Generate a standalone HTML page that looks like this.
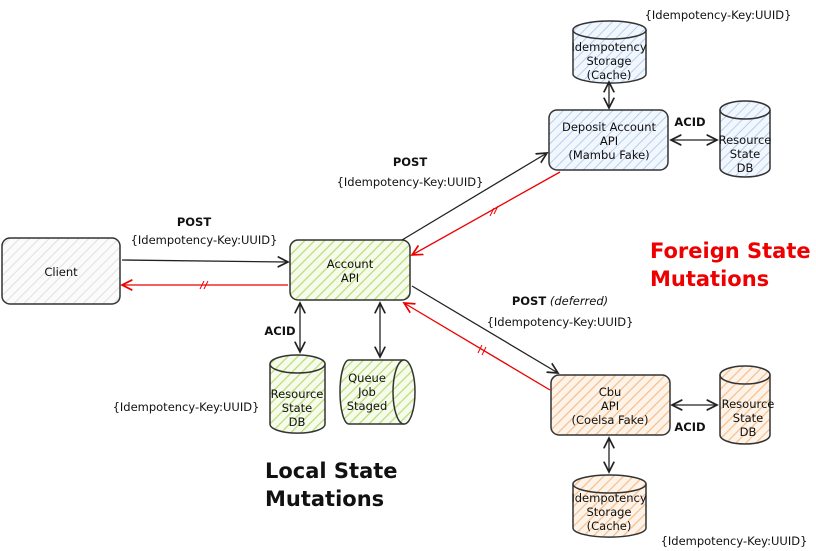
<!DOCTYPE html>
<html><head><style>body{margin:0;background:#fff}svg{display:block}</style></head><body>
<svg width="816" height="551" viewBox="0 0 816 551" xmlns="http://www.w3.org/2000/svg" font-family="'Comic Sans MS','DejaVu Sans',sans-serif">
<defs>
<pattern id="g" width="7" height="7" patternUnits="userSpaceOnUse" patternTransform="rotate(45)"><rect width="7" height="7" fill="#f6fbec"/><line x1="0" y1="0" x2="0" y2="7" stroke="#b8de78" stroke-width="2.5"/></pattern>
<pattern id="b" width="7" height="7" patternUnits="userSpaceOnUse" patternTransform="rotate(45)"><rect width="7" height="7" fill="#f2f7fd"/><line x1="0" y1="0" x2="0" y2="7" stroke="#b4cff0" stroke-width="2"/></pattern>
<pattern id="o" width="7" height="7" patternUnits="userSpaceOnUse" patternTransform="rotate(45)"><rect width="7" height="7" fill="#fdf3e8"/><line x1="0" y1="0" x2="0" y2="7" stroke="#f6c08e" stroke-width="2.5"/></pattern>
<pattern id="c" width="7" height="7" patternUnits="userSpaceOnUse" patternTransform="rotate(45)"><rect width="7" height="7" fill="#fbfbfb"/><line x1="0" y1="0" x2="0" y2="7" stroke="#e0e0e0" stroke-width="2"/></pattern>
<marker id="ak" markerWidth="10" markerHeight="10" refX="8" refY="5" orient="auto-start-reverse"><path d="M0,1 L8,5 L0,9" fill="none" stroke="#222" stroke-width="1.3"/></marker>
<marker id="ar" markerWidth="10" markerHeight="10" refX="8" refY="5" orient="auto-start-reverse"><path d="M0,1 L8,5 L0,9" fill="none" stroke="#e00" stroke-width="1.3"/></marker>
</defs>
<g stroke="#333" stroke-width="1.5">
<rect x="2" y="238" width="118" height="66" rx="8" fill="url(#c)"/>
<rect x="290" y="240" width="120" height="60" rx="8" fill="url(#g)"/>
<rect x="549" y="110" width="119" height="60" rx="8" fill="url(#b)"/>
<rect x="551" y="375" width="119" height="60" rx="8" fill="url(#o)"/>
<path d="M573,30 v44 a36,9 0 0 0 73,0 v-44" fill="url(#b)"/><ellipse cx="609.5" cy="30" rx="36.5" ry="9" fill="url(#b)"/>
<path d="M720,110 v58 a25,9 0 0 0 50,0 v-58" fill="url(#b)"/><ellipse cx="745" cy="110" rx="25" ry="9" fill="url(#b)"/>
<path d="M720,375 v60 a25,9 0 0 0 50,0 v-60" fill="url(#o)"/><ellipse cx="745" cy="375" rx="25" ry="9" fill="url(#o)"/>
<path d="M573,484 v44 a36,9 0 0 0 73,0 v-44" fill="url(#o)"/><ellipse cx="609.5" cy="484" rx="36.5" ry="9" fill="url(#o)"/>
<path d="M270,364 v60 a27,9 0 0 0 55,0 v-60" fill="url(#g)"/><ellipse cx="297.5" cy="364" rx="27.5" ry="9" fill="url(#g)"/>
<path d="M404,360 h-55 a9,32 0 0 0 0,64 h55" fill="url(#g)"/><ellipse cx="404" cy="392" rx="11" ry="32" fill="url(#g)"/>
</g>
<g fill="none" stroke-width="1.3">
<line x1="122" y1="260" x2="288" y2="262" stroke="#222" marker-end="url(#ak)"/>
<line x1="288" y1="285" x2="122" y2="285" stroke="#e00" marker-end="url(#ar)"/>
<line x1="402" y1="240" x2="547" y2="153" stroke="#222" marker-end="url(#ak)"/>
<line x1="560" y1="172" x2="412" y2="255" stroke="#e00" marker-end="url(#ar)"/>
<line x1="412" y1="286" x2="558" y2="373" stroke="#222" marker-end="url(#ak)"/>
<line x1="550" y1="390" x2="404" y2="303" stroke="#e00" marker-end="url(#ar)"/>
<line x1="300" y1="303" x2="300" y2="352" stroke="#222" marker-end="url(#ak)" marker-start="url(#ak)"/>
<line x1="380" y1="303" x2="380" y2="357" stroke="#222" marker-end="url(#ak)" marker-start="url(#ak)"/>
<line x1="609" y1="82" x2="609" y2="108" stroke="#222" marker-end="url(#ak)" marker-start="url(#ak)"/>
<line x1="671" y1="140" x2="717" y2="140" stroke="#222" marker-end="url(#ak)" marker-start="url(#ak)"/>
<line x1="672" y1="405" x2="717" y2="405" stroke="#222" marker-end="url(#ak)" marker-start="url(#ak)"/>
<line x1="609" y1="438" x2="609" y2="472" stroke="#222" marker-end="url(#ak)" marker-start="url(#ak)"/>
</g>
<g fill="#111" font-size="11.5" text-anchor="middle">
<text x="61" y="276">Client</text>
<text x="350" y="268">Account</text><text x="350" y="282">API</text>
<text x="609" y="131">Deposit Account</text><text x="609" y="145">API</text><text x="609" y="159">(Mambu Fake)</text>
<text x="610" y="396">Cbu</text><text x="610" y="410">API</text><text x="610" y="424">(Coelsa Fake)</text>
<text x="609" y="51">Idempotency</text><text x="609" y="65">Storage</text><text x="609" y="79">(Cache)</text>
<text x="609" y="502">Idempotency</text><text x="609" y="516">Storage</text><text x="609" y="530">(Cache)</text>
<text x="745" y="144">Resource</text><text x="745" y="158">State</text><text x="745" y="172">DB</text>
<text x="748" y="408">Resource</text><text x="748" y="422">State</text><text x="748" y="436">DB</text>
<text x="297" y="398">Resource</text><text x="297" y="412">State</text><text x="297" y="426">DB</text>
<text x="367" y="382">Queue</text><text x="367" y="396">Job</text><text x="367" y="410">Staged</text>
<text x="194" y="226" font-weight="bold">POST</text>
<text x="204" y="244">{Idempotency-Key:UUID}</text>
<text x="410" y="166" font-weight="bold">POST</text>
<text x="410" y="186">{Idempotency-Key:UUID}</text>
<text x="560" y="305"><tspan font-weight="bold">POST</tspan> <tspan font-style="italic">(deferred)</tspan></text>
<text x="560" y="326">{Idempotency-Key:UUID}</text>
<text x="186" y="411">{Idempotency-Key:UUID}</text>
<text x="718" y="19">{Idempotency-Key:UUID}</text>
<text x="734" y="545">{Idempotency-Key:UUID}</text>
<text x="280" y="335" font-weight="bold">ACID</text>
<text x="690" y="126" font-weight="bold">ACID</text>
<text x="690" y="431" font-weight="bold">ACID</text>
</g>
<g font-size="21" font-weight="bold">
<text x="265" y="478" fill="#111">Local State</text>
<text x="265" y="506" fill="#111">Mutations</text>
<text x="650" y="258" fill="#e00">Foreign State</text>
<text x="650" y="286" fill="#e00">Mutations</text>
</g>
<g stroke="#e00" stroke-width="1"><line x1="200" y1="289" x2="204" y2="281"/><line x1="204" y1="289" x2="208" y2="281"/>
<line x1="490" y1="216" x2="494" y2="208"/><line x1="494" y1="214" x2="498" y2="206"/>
<line x1="478" y1="353" x2="482" y2="345"/><line x1="482" y1="355" x2="486" y2="347"/></g>
</svg>
</body></html>
